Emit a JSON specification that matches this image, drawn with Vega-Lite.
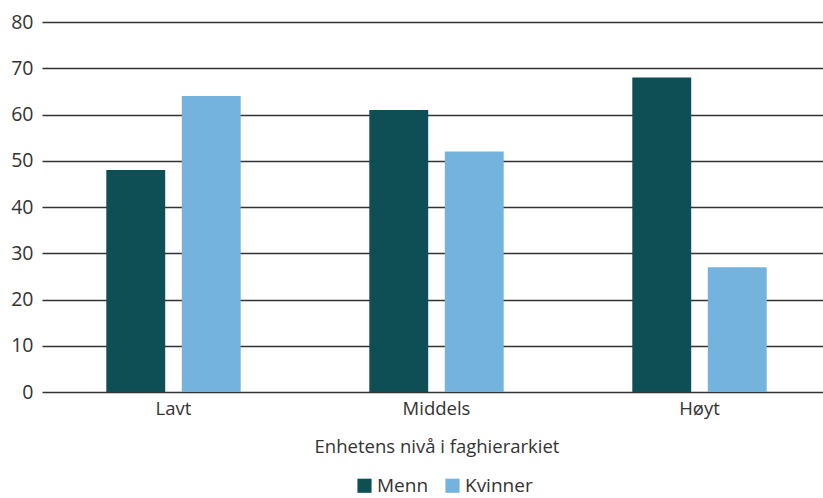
{
  "$schema": "https://vega.github.io/schema/vega-lite/v6.json",
  "autosize": {"type": "none"},
  "width": 781,
  "height": 370,
  "padding": {"left": 42, "top": 22, "right": 0, "bottom": 106},
  "background": "white",
  "data": {"values": [
    {"niva": "Lavt", "kjonn": "Menn", "verdi": 48},
    {"niva": "Lavt", "kjonn": "Kvinner", "verdi": 64},
    {"niva": "Middels", "kjonn": "Menn", "verdi": 61},
    {"niva": "Middels", "kjonn": "Kvinner", "verdi": 52},
    {"niva": "Høyt", "kjonn": "Menn", "verdi": 68},
    {"niva": "Høyt", "kjonn": "Kvinner", "verdi": 27}
  ]},
  "mark": {"type": "bar"},
  "encoding": {
    "x": {
      "field": "niva", "type": "nominal", "sort": ["Lavt", "Middels", "Høyt"],
      "scale": {"range": [0, 789], "paddingInner": 0.489, "paddingOuter": 0.2445},
      "axis": {"title": "Enhetens nivå i faghierarkiet", "labelAngle": 0, "domain": false, "ticks": false,
        "labelFont": "Open Sans", "labelFontSize": 18.5, "labelColor": "#333333", "labelPadding": 7,
        "titleFont": "Open Sans", "titleFontSize": 18.5, "titleFontWeight": "normal", "titleColor": "#333333", "titlePadding": 20}
    },
    "xOffset": {"field": "kjonn", "type": "nominal", "sort": ["Menn", "Kvinner"], "scale": {"paddingInner": 0.22, "paddingOuter": 0}},
    "y": {
      "field": "verdi", "type": "quantitative",
      "scale": {"domain": [0, 80]},
      "axis": {"title": null, "values": [0,10,20,30,40,50,60,70,80], "domain": false, "ticks": false, "grid": true,
        "gridColor": "#333333", "gridWidth": 1.3, "gridOpacity": 1,
        "labelFont": "Open Sans", "labelFontSize": 19.5, "labelColor": "#333333", "labelPadding": 9}
    },
    "color": {
      "field": "kjonn", "type": "nominal", "sort": ["Menn", "Kvinner"],
      "scale": {"domain": ["Menn", "Kvinner"], "range": ["#0d4f55", "#74b3dd"]},
      "legend": {"title": null, "orient": "none", "direction": "horizontal", "legendX": 313, "legendY": 454,
        "symbolType": "square", "symbolSize": 200, "symbolStrokeWidth": 0, "symbolOpacity": 1,
        "labelFont": "Open Sans", "labelFontSize": 19, "labelColor": "#333333", "labelOffset": 3, "columnPadding": 14}
    }
  },
  "config": {"view": {"stroke": null}}
}
